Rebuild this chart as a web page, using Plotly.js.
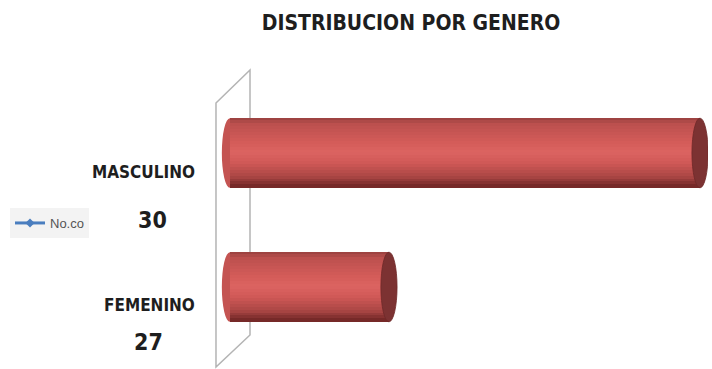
<!DOCTYPE html>
<html>
<head>
<meta charset="utf-8">
<script src="https://cdn.plot.ly/plotly-3.0.1.min.js"></script>
<style>html,body{margin:0;padding:0;background:#fff;}#chart{width:712px;height:369px;}</style>
</head>
<body>
<div id="chart"></div>
<script>
// ---- data ----
const categories = ['FEMENINO', 'MASCULINO'];
const counts = [27, 30];
const chartTitle = 'DISTRIBUCION POR GENERO';
const legendName = 'No.co';

// ---- layout helpers (pixel -> paper) ----
const W = 712, H = 369;
const M = {l: 215, r: 4, t: 86, b: 15};
const PW = W - M.l - M.r, PH = H - M.t - M.b;
const px = p => (p - M.l) / PW;
const py = p => (H - M.b - p) / PH;

const xRange = [25.322, 30.077];
const barBase = 25.466;
const barWidth = 0.52;
const capHalf = 0.078;
const font = '"DejaVu Sans Condensed", "Liberation Sans Narrow", Arial, sans-serif';

// gradient of the cylinder (top -> bottom)
const stops = [[0, [150, 64, 62]], [0.1, [188, 80, 78]], [0.35, [212, 92, 89]], [0.5, [220, 100, 97]],
               [0.65, [208, 89, 87]], [0.85, [168, 69, 67]], [1, [110, 36, 36]]];
function shade(t) {
  for (let i = 1; i < stops.length; i++) {
    if (t <= stops[i][0]) {
      const a = stops[i - 1], b = stops[i];
      const f = (t - a[0]) / (b[0] - a[0]);
      const c = a[1].map((v, k) => Math.round(v + (b[1][k] - v) * f));
      return 'rgb(' + c.join(',') + ')';
    }
  }
  return 'rgb(110,36,36)';
}

const N = 24;
const w = barWidth / N;
const traces = [];
for (let i = 0; i < N; i++) {
  traces.push({
    type: 'bar', orientation: 'h',
    y: categories, x: counts.map(v => v - barBase), base: barBase,
    width: w * 1.2, offset: barWidth / 2 - (i + 1) * w,
    marker: {color: shade((i + 0.5) / N), line: {width: 0}},
    showlegend: false, hoverinfo: 'skip'
  });
}
traces.push({
  type: 'scatter', mode: 'lines+markers', x: [null], y: [null], name: legendName,
  line: {color: '#4a7ebf', width: 3}, marker: {symbol: 'diamond', size: 7, color: '#4a7ebf'}
});

const shapes = [];
// back wall
const wallPts = [[216, 103], [250, 70], [250, 335], [216, 367]];
shapes.push({
  type: 'path', xref: 'paper', yref: 'paper', layer: 'below',
  path: 'M ' + wallPts.map(p => px(p[0]).toFixed(4) + ',' + py(p[1]).toFixed(4)).join(' L ') + ' Z',
  line: {color: '#b4b4b4', width: 1.5}, fillcolor: 'rgba(0,0,0,0)'
});
categories.forEach((c, i) => {
  // left rounded end
  shapes.push({type: 'circle', xref: 'x', yref: 'y', layer: 'below',
    x0: barBase - capHalf, x1: barBase + capHalf, y0: i - barWidth / 2, y1: i + barWidth / 2,
    fillcolor: 'rgb(196,84,82)', line: {width: 0}});
  // right cap
  shapes.push({type: 'circle', xref: 'x', yref: 'y', layer: 'above',
    x0: counts[i] - capHalf, x1: counts[i] + capHalf, y0: i - barWidth / 2, y1: i + barWidth / 2,
    fillcolor: 'rgb(124,50,50)', line: {color: 'rgb(110,40,40)', width: 0.8}});
});

// category labels
const labelPos = {MASCULINO: {name: [197, 172], num: [152, 220]}, FEMENINO: {name: [197, 305], num: [148, 342]}};
const annotations = [];
categories.forEach((c, i) => {
  const p = labelPos[c];
  annotations.push({xref: 'paper', yref: 'paper', x: px(p.name[0]), y: py(p.name[1]), xanchor: 'right', yanchor: 'middle',
    text: '<b>' + c + '</b>', showarrow: false, font: {family: font, size: 17, color: '#1e1e1e'}});
  annotations.push({xref: 'paper', yref: 'paper', x: px(p.num[0]), y: py(p.num[1]), xanchor: 'center', yanchor: 'middle',
    text: '<b>' + counts[i] + '</b>', showarrow: false, font: {family: font, size: 23, color: '#1e1e1e'}});
});

const layout = {
  width: W, height: H, margin: M,
  paper_bgcolor: '#fff', plot_bgcolor: 'rgba(0,0,0,0)',
  title: {text: '<b>' + chartTitle + '</b>', xref: 'container', yref: 'container', x: 411 / W, y: 1 - 23 / H,
    xanchor: 'center', yanchor: 'middle', font: {family: font, size: 21, color: '#1e1e1e'}},
  barmode: 'overlay', bargap: 0,
  xaxis: {range: xRange, visible: false, fixedrange: true},
  yaxis: {type: 'category', categoryorder: 'array', categoryarray: categories, range: [-0.5, 1.5], visible: false},
  showlegend: true,
  legend: {x: px(10), y: py(208), xanchor: 'left', yanchor: 'top', bgcolor: 'rgba(238,238,238,0.7)',
    font: {family: '"Liberation Sans", Arial, sans-serif', size: 13, color: '#555'}, itemwidth: 30},
  shapes: shapes, annotations: annotations
};

Plotly.newPlot('chart', traces, layout, {displayModeBar: false, staticPlot: true});
</script>
</body>
</html>
